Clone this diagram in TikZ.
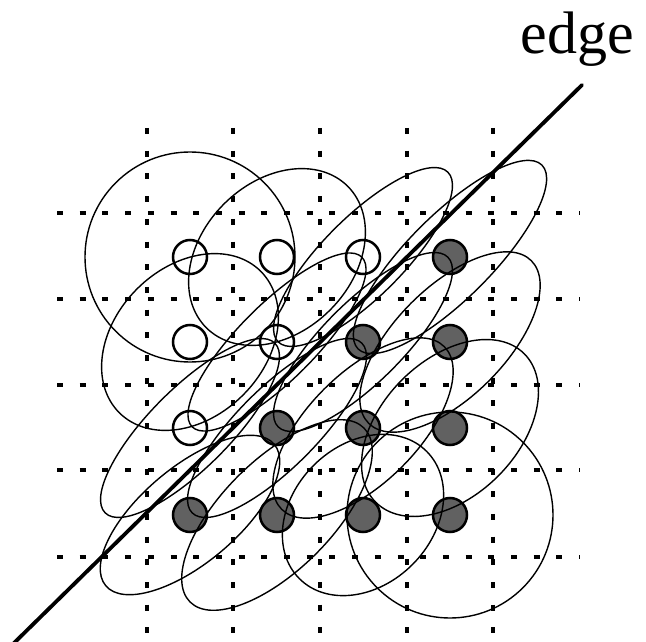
\documentclass[tikz,border=0pt]{standalone}
\usepackage{fontspec}
\setmainfont{Liberation Serif}
\begin{document}
\begin{tikzpicture}[x=1pt,y=-1pt,
  kern/.style={line width=1.4pt},
  gridline/.style={line width=3.4pt, dash pattern=on 6pt off 16.7pt},
  opendot/.style={circle, draw, line width=2.5pt, fill=white, minimum size=34pt, inner sep=0pt},
  filldot/.style={circle, draw, line width=2.5pt, fill=black!62, minimum size=34pt, inner sep=0pt},
  edgeline/.style={line width=3.8pt, line cap=round}]
\useasboundingbox (0,0) rectangle (646,642);
% dotted grid
\foreach \x in {147,233,320,407,493} \draw[gridline] (\x,128) -- (\x,650);
\foreach \y in {213,299,385,470,557} \draw[gridline] (57,\y) -- (580,\y);
% pixels
\node[opendot] (p11) at (190,257) {};
\node[opendot] (p12) at (277,257) {};
\node[opendot] (p13) at (363,257) {};
\node[filldot] (p14) at (450,257) {};
\node[opendot] (p21) at (190,342) {};
\node[opendot] (p22) at (277,342) {};
\node[filldot] (p23) at (363,342) {};
\node[filldot] (p24) at (450,342) {};
\node[opendot] (p31) at (190,428) {};
\node[filldot] (p32) at (277,428) {};
\node[filldot] (p33) at (363,428) {};
\node[filldot] (p34) at (450,428) {};
\node[filldot] (p41) at (190,515) {};
\node[filldot] (p42) at (277,515) {};
\node[filldot] (p43) at (363,515) {};
\node[filldot] (p44) at (450,515) {};
% kernels
\foreach \n/\t/\a/\b in {p11/45/105/105, p12/45/100/75, p13/45/120/40, p14/45/130/42,
                      p21/45/100/75, p22/45/120/38, p23/45/120/40, p24/45/115/55,
                      p31/45/120/40, p32/45/120/40, p33/45/115/55, p34/45/105/68,
                      p41/40/110/48, p42/45/123/55, p43/45/90/70, p44/45/103/103}
  \draw[kern, rotate around={\t:(\n.center)}] (\n.center) ellipse [x radius=\a pt, y radius=\b pt];
% edge
\coordinate (e1) at (12,645);
\coordinate (e2) at (582,85);
\draw[edgeline] (e1) -- (e2);
\node[font=\fontsize{60}{62}\selectfont, anchor=base, inner sep=0pt] (lbl) at (577,54) {edge};
\end{tikzpicture}
\end{document}
